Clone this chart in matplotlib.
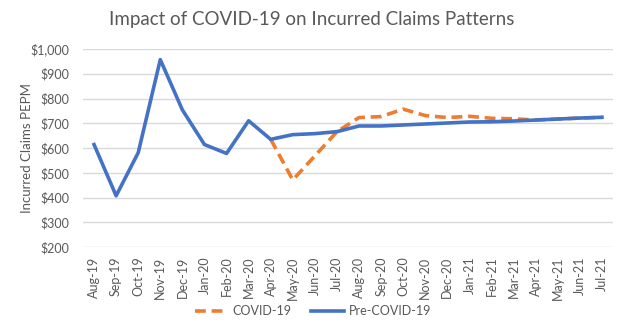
import matplotlib
matplotlib.use("Agg")
import matplotlib.pyplot as plt
import matplotlib.ticker as mticker

plt.rcParams['font.family'] = ['Lato', 'DejaVu Sans']

# monthly incurred claims PEPM
months = ['Aug-19', 'Sep-19', 'Oct-19', 'Nov-19', 'Dec-19', 'Jan-20', 'Feb-20',
          'Mar-20', 'Apr-20', 'May-20', 'Jun-20', 'Jul-20', 'Aug-20', 'Sep-20',
          'Oct-20', 'Nov-20', 'Dec-20', 'Jan-21', 'Feb-21', 'Mar-21', 'Apr-21',
          'May-21', 'Jun-21', 'Jul-21']
pre_covid = [614, 407, 581, 957, 754, 614, 578, 710, 635, 654, 658, 666, 689,
             689, 693, 697, 701, 705, 706, 709, 713, 717, 721, 724]
# covid series starts at Apr-20
covid_months = months[8:]
covid = [635, 471, 568, 666, 723, 727, 757, 731, 723, 728, 720, 718, 713,
         717, 721, 724]

TXT = '#595959'
BLUE = '#4472C4'
ORANGE = '#ED7D31'

fig = plt.figure(figsize=(6.24, 3.31), dpi=100)
ax = fig.add_axes([83/624, 1 - 247/331, (613 - 83)/624, (247 - 49)/331])

x_all = list(range(len(months)))
x_cov = [months.index(m) for m in covid_months]

ax.plot(x_cov, covid, color=ORANGE, lw=2.6, ls=(0, (3, 1.6)), label='COVID-19',
        solid_capstyle='butt', dash_capstyle='butt')
ax.plot(x_all, pre_covid, color=BLUE, lw=2.6, label='Pre-COVID-19',
        solid_joinstyle='round')

ax.set_xlim(-0.5, len(months) - 0.5)
ax.set_ylim(200, 1000)
ax.yaxis.set_major_locator(mticker.MultipleLocator(100))
ax.yaxis.set_major_formatter(mticker.FuncFormatter(lambda v, p: f'${v:,.0f}'))
ax.set_xticks(x_all)
ax.set_xticklabels(months, rotation=90)
ax.grid(axis='y', color='#D9D9D9', lw=1)
ax.set_axisbelow(True)
for s in ax.spines.values():
    s.set_visible(False)
ax.tick_params(axis='both', length=0, colors=TXT, labelsize=9)
ax.tick_params(axis='y', pad=10)
ax.tick_params(axis='x', pad=7)
ax.set_ylabel('Incurred Claims PEPM', color=TXT, fontsize=9.5, labelpad=-2)

fig.suptitle('Impact of COVID-19 on Incurred Claims Patterns', x=0.5, y=1 - 20/331,
             va='center', fontsize=13.5, color=TXT)

leg = fig.legend(loc='center', bbox_to_anchor=(313/624, 1 - 311/331), ncol=2,
                 frameon=False, fontsize=9, handlelength=2.6, columnspacing=1.6,
                 handletextpad=0.4)
for t in leg.get_texts():
    t.set_color(TXT)

fig.savefig('out.png', dpi=100)
